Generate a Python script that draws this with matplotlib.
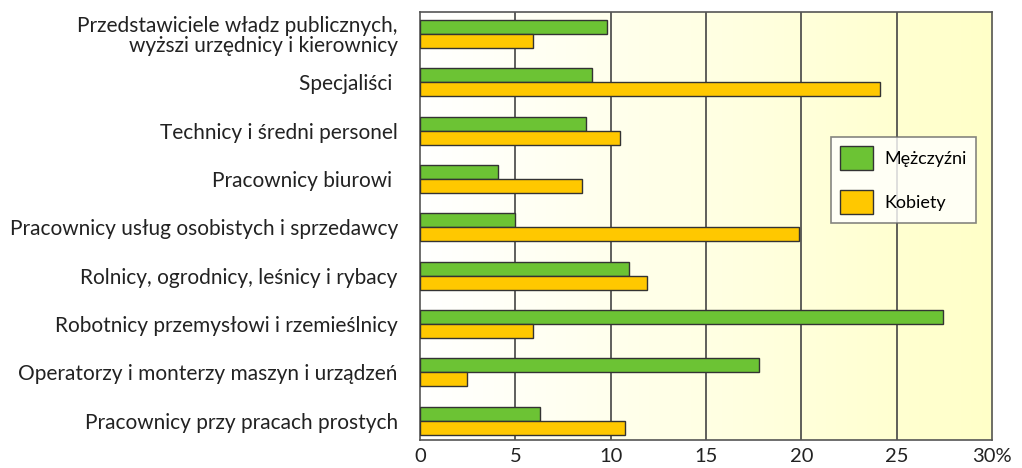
import numpy as np
import matplotlib.pyplot as plt
from matplotlib.colors import LinearSegmentedColormap

categories = [
    "Przedstawiciele władz publicznych,\nwyższi urzędnicy i kierownicy",
    "Specjaliści ",
    "Technicy i średni personel",
    "Pracownicy biurowi ",
    "Pracownicy usług osobistych i sprzedawcy",
    "Rolnicy, ogrodnicy, leśnicy i rybacy",
    "Robotnicy przemysłowi i rzemieślnicy",
    "Operatorzy i monterzy maszyn i urządzeń",
    "Pracownicy przy pracach prostych",
]
men = [9.8, 9.0, 8.7, 4.1, 5.0, 10.95, 27.45, 17.8, 6.3]
women = [5.9, 24.1, 10.5, 8.5, 19.85, 11.9, 5.9, 2.45, 10.75]
xticks = [0, 5, 10, 15, 20, 25, 30]
xticklabels = ["0", "5", "10", "15", "20", "25", "30%"]

plt.rcParams['font.family'] = ['Lato', 'DejaVu Sans']

fig = plt.figure(figsize=(10.22, 4.68), dpi=100)
ax = fig.add_axes([0.411, 0.06, 0.5597, 0.914])

# background gradient white -> light yellow
cmap = LinearSegmentedColormap.from_list("bg", ["#ffffff", "#ffffc8"])
grad = np.linspace(0, 1, 256).reshape(1, -1)
ax.imshow(grad, cmap=cmap, aspect="auto", extent=[0, 30, 8.4, -0.45], zorder=0)

y = np.arange(len(categories))
h = 0.29
ax.barh(y - h / 2, men, height=h, color="#6cc334", edgecolor="#333333",
        linewidth=1, label="Mężczyźni", zorder=3)
ax.barh(y + h / 2, women, height=h, color="#ffc800", edgecolor="#333333",
        linewidth=1, label="Kobiety", zorder=3)

ax.set_xlim(0, 30)
ax.set_ylim(8.4, -0.45)
ax.set_xticks(xticks)
ax.set_xticklabels(xticklabels, fontsize=14.5, color="#222222")
ax.set_yticks(y)
ax.set_yticklabels(categories, fontsize=15, color="#222222", linespacing=1.0)
ax.tick_params(length=0, pad=6)
ax.tick_params(axis="y", pad=16)
for gx in xticks[1:-1]:
    ax.axvline(gx, color="#444444", linewidth=1.2, zorder=1)
for sp in ax.spines.values():
    sp.set_color("#555555")
    sp.set_linewidth(1.2)

leg = ax.legend(loc="upper left", bbox_to_anchor=(0.7185, 0.708), fontsize=13,
                frameon=True, fancybox=False, edgecolor="#666666",
                borderaxespad=0, handlelength=1.85, handleheight=1.65,
                labelspacing=1.1, borderpad=0.5, handletextpad=0.6)
leg.get_frame().set_linewidth(1.2)

fig.savefig("out.png", dpi=100)
